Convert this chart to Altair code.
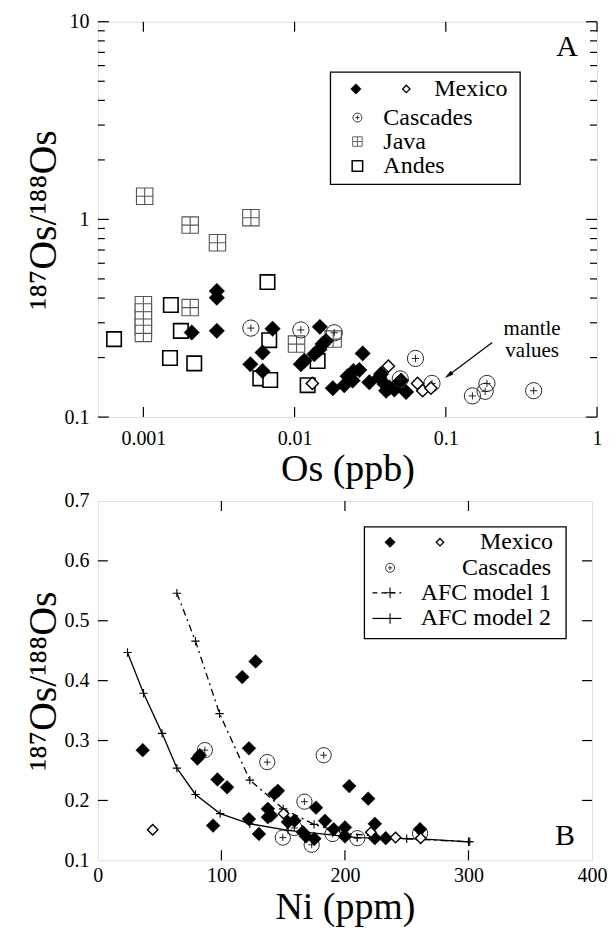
import altair as alt
import pandas as pd

FONT = "Liberation Serif, DejaVu Serif, serif"

# ---------------- Panel A data (Os ppb vs 187Os/188Os, log-log) ----------------
mexA_fill_x = [0.00306, 0.00306, 0.00306, 0.00209, 0.00715, 0.00614, 0.0051, 0.00614, 0.0147, 0.0153,
               0.0161, 0.0146, 0.0135, 0.0116, 0.011, 0.0282, 0.0179, 0.0213, 0.0224, 0.0245, 0.0268,
               0.0242, 0.0312, 0.0364, 0.0393, 0.0424, 0.0457, 0.048, 0.0506, 0.0546, 0.0373, 0.0403]
mexA_fill_y = [0.434, 0.402, 0.273, 0.268, 0.28, 0.212, 0.185, 0.171, 0.286, 0.234,
               0.243, 0.22, 0.208, 0.193, 0.185, 0.21, 0.14, 0.145, 0.161, 0.171, 0.173,
               0.153, 0.15, 0.159, 0.147, 0.141, 0.138, 0.147, 0.153, 0.134, 0.165, 0.136]
mexA_open_x = [0.0131, 0.0417, 0.065, 0.0703, 0.0797]
mexA_open_y = [0.148, 0.181, 0.148, 0.136, 0.14]
casA_x = [0.00514, 0.011, 0.0183, 0.063, 0.05, 0.081, 0.187, 0.182, 0.15, 0.381]
casA_y = [0.282, 0.276, 0.267, 0.198, 0.156, 0.148, 0.148, 0.135, 0.128, 0.136]
javA_x = [0.00102, 0.00204, 0.00309, 0.00514, 0.001, 0.001, 0.001, 0.001, 0.001, 0.00204, 0.0103, 0.018]
javA_y = [1.31, 0.936, 0.762, 1.02, 0.37, 0.34, 0.31, 0.285, 0.265, 0.358, 0.234, 0.248]
andA_x = [0.00064, 0.00152, 0.00177, 0.0015, 0.00217, 0.00662, 0.0068, 0.00593, 0.0069, 0.0142, 0.0122]
andA_y = [0.248, 0.369, 0.273, 0.199, 0.187, 0.482, 0.245, 0.157, 0.154, 0.192, 0.145]

# ---------------- Panel B data (Ni ppm vs 187Os/188Os) ----------------
mexB_fill_x = [36.3, 80.6, 82.5, 116.9, 127.7, 122.3, 96.8, 104.6, 93.3, 122.3, 130.4, 143, 145.7,
               137.6, 140.3, 137.6, 153.8, 159.1, 165.9, 168.5, 175.3, 176.6, 183.9, 190.9, 200, 200,
               203.5, 218.8, 224.2, 224.2, 233, 260.8]
mexB_fill_y = [0.284, 0.27, 0.2755, 0.406, 0.432, 0.287, 0.235, 0.222, 0.158, 0.169, 0.144, 0.211, 0.216,
               0.186, 0.175, 0.172, 0.164, 0.166, 0.147, 0.14, 0.136, 0.188, 0.166, 0.152, 0.155, 0.14,
               0.224, 0.203, 0.161, 0.137, 0.137, 0.152]
mexB_open_x = [44.4, 150.3, 221, 241, 261.3]
mexB_open_y = [0.151, 0.178, 0.147, 0.138, 0.137]
casB_x = [86.6, 137.1, 182.8, 167.2, 159.1, 149.7, 173.1, 190, 210, 260.8]
casB_y = [0.284, 0.264, 0.2755, 0.198, 0.154, 0.138, 0.126, 0.144, 0.137, 0.145]
afc1_x = [64, 79, 98.5, 123, 150, 175, 200, 250, 300]
afc1_y = [0.546, 0.466, 0.345, 0.234, 0.186, 0.16, 0.145, 0.136, 0.131]
afc2_x = [24, 37, 52, 64, 79, 99, 123, 154, 210, 261, 301]
afc2_y = [0.447, 0.379, 0.312, 0.254, 0.21, 0.178, 0.161, 0.15, 0.138, 0.136, 0.131]

# axis tick values
xA_ticks = [0.001, 0.01, 0.1, 1]
yA_major = [0.1, 1, 10]
yA_minor = [0.2, 0.3, 0.4, 0.5, 0.6, 0.7, 0.8, 0.9, 2, 3, 4, 5, 6, 7, 8, 9]
xB_ticks = [0, 100, 200, 300, 400]
yB_ticks = [0.1, 0.2, 0.3, 0.4, 0.5, 0.6, 0.7]

WA, HA = 500, 396
WB, HB = 495, 360

sxA = alt.Scale(type="log", domain=[0.0005, 1])
syA = alt.Scale(type="log", domain=[0.1, 10])
sxB = alt.Scale(domain=[0, 400], nice=False, zero=False)
syB = alt.Scale(domain=[0.1, 0.7], nice=False, zero=False)

CIRCLE_PLUS = "M -1 0 A 1 1 0 1 1 1 0 A 1 1 0 1 1 -1 0 Z M -0.45 0 L 0.45 0 M 0 -0.45 L 0 0.45"
SQUARE_PLUS = "M -1 -1 L 1 -1 L 1 1 L -1 1 Z M 0 -1 L 0 1 M -1 0 L 1 0"
PLUS = "M -1 0 L 1 0 M 0 -1 L 0 1"
ARROW = "M 0 0 L 0.5 2 L -0.5 2 Z"

YTITLE = "\u00b9\u2078\u2077Os/\u00b9\u2078\u2078Os"


def axis(vals, fmt, title, lpad, tpad, tsize):
    return alt.Axis(values=vals, format=fmt, title=title, tickSize=0, ticks=False, domain=False,
                    grid=False, labelFont=FONT, labelFontSize=20, labelColor="black",
                    labelPadding=lpad, labelFlush=False, labelOverlap=False, labelBound=False,
                    titleFont=FONT, titleFontSize=tsize, titleFontWeight="normal", titleColor="black",
                    titlePadding=tpad)


axXA = axis(xA_ticks, "~g", "Os (ppb)", 11, 3, 38)
axYA = axis(yA_major, "~g", YTITLE, 9, 0, 40)
axXB = axis(xB_ticks, "d", "Ni (ppm)", 5, 3, 38)
axYB = axis(yB_ticks, ".1f", YTITLE, 9, 0, 40)


def dummy():
    return pd.DataFrame({"k": [0]})


def X(sx, ax, f="x"):
    return alt.X(f + ":Q", scale=sx, axis=ax, title=ax.title)


def Y(sy, ay, f="y"):
    return alt.Y(f + ":Q", scale=sy, axis=ay, title=ay.title)


def pts(xs, ys, P, **mk):
    sx, sy, ax, ay = P
    df = pd.DataFrame({"x": xs, "y": ys})
    return alt.Chart(df).mark_point(opacity=1, **mk).encode(x=X(sx, ax), y=Y(sy, ay))


def diamond_fill(xs, ys, P, size):
    return pts(xs, ys, P, shape="diamond", size=size, filled=True, fill="black",
               stroke="black", strokeWidth=0.5)


def diamond_open(xs, ys, P, size):
    return pts(xs, ys, P, shape="diamond", size=size, fill="white", fillOpacity=1,
               stroke="black", strokeWidth=1.4)


def circ(xs, ys, P, size):
    return pts(xs, ys, P, shape=CIRCLE_PLUS, size=size, fillOpacity=0,
               stroke="#222", strokeWidth=1.0)


def ticks_y(vals, P, length, W):
    sx, sy, ax, ay = P
    df = pd.DataFrame({"y": vals})
    base = alt.Chart(df).mark_rule(color="black", strokeWidth=1.2)
    left = base.encode(y=Y(sy, ay), x=alt.value(0), x2=alt.value(length))
    right = base.encode(y=Y(sy, ay), x=alt.value(W - length), x2=alt.value(W))
    return [left, right]


def ticks_x(vals, P, length, H):
    sx, sy, ax, ay = P
    df = pd.DataFrame({"x": vals})
    base = alt.Chart(df).mark_rule(color="black", strokeWidth=1.2)
    bot = base.encode(x=X(sx, ax), y=alt.value(H - length), y2=alt.value(H))
    top = base.encode(x=X(sx, ax), y=alt.value(0), y2=alt.value(length))
    return [bot, top]


def txt(s, x, y, size=24, align="left", baseline="middle"):
    return alt.Chart(dummy()).mark_text(text=s, font=FONT, fontSize=size, align=align,
                                        baseline=baseline, color="black").encode(
        x=alt.value(x), y=alt.value(y))


def sym(x, y, **mk):
    return alt.Chart(dummy()).mark_point(opacity=1, **mk).encode(x=alt.value(x), y=alt.value(y))


def box(x1, y1, x2, y2):
    return alt.Chart(dummy()).mark_rect(fill="white", stroke="black", strokeWidth=1.3).encode(
        x=alt.value(x1), x2=alt.value(x2), y=alt.value(y1), y2=alt.value(y2))


def seg(x1, y1, x2, y2, dash=None, sw=1.2):
    kw = {"strokeDash": dash} if dash else {}
    return alt.Chart(dummy()).mark_rule(color="black", strokeWidth=sw, **kw).encode(
        x=alt.value(x1), x2=alt.value(x2), y=alt.value(y1), y2=alt.value(y2))


# ---------------- Panel A ----------------
PA = (sxA, syA, axXA, axYA)
layersA = []
layersA += ticks_x(xA_ticks, PA, 10, HA)
layersA += ticks_y(yA_major, PA, 11, WA)
layersA += ticks_y(yA_minor, PA, 7, WA)
layersA += [
    pts(javA_x, javA_y, PA, shape=SQUARE_PLUS, size=270, fill="white", fillOpacity=1,
        stroke="#555", strokeWidth=1.1),
    pts(andA_x, andA_y, PA, shape="square", size=210, fill="white", fillOpacity=1,
        stroke="black", strokeWidth=1.6),
    diamond_fill(mexA_fill_x, mexA_fill_y, PA, 240),
    circ(casA_x, casA_y, PA, 260),
    diamond_open(mexA_open_x, mexA_open_y, PA, 150),
    # legend
    box(233, 50.5, 423, 163),
    sym(258.5, 67.3, shape="diamond", size=110, filled=True, fill="black", stroke="black", strokeWidth=0.5),
    sym(309, 67.3, shape="diamond", size=55, fill="white", stroke="black", strokeWidth=1.3),
    txt("Mexico", 337, 67.3),
    sym(260, 96, shape=CIRCLE_PLUS, size=80, fillOpacity=0, stroke="#222", strokeWidth=0.9),
    txt("Cascades", 286, 96),
    sym(260, 120, shape=SQUARE_PLUS, size=90, fill="white", stroke="#555", strokeWidth=0.9),
    txt("Java", 286, 120),
    sym(260, 144.5, shape="square", size=110, fill="white", stroke="black", strokeWidth=1.5),
    txt("Andes", 286, 144.5),
    # panel letter and annotation
    txt("A", 470, 25, size=30, align="center"),
    txt("mantle", 435, 308, size=21, align="center"),
    txt("values", 435, 330, size=21, align="center"),
    seg(395, 321.3, 350, 355),
    sym(348.3, 356.3, shape=ARROW, size=64, filled=True, fill="black", stroke="black",
        strokeWidth=0.5, angle=233),
]
panelA = alt.layer(*layersA).properties(width=WA, height=HA)

# ---------------- Panel B ----------------
PB = (sxB, syB, axXB, axYB)
dfa1 = pd.DataFrame({"x": afc1_x, "y": afc1_y})
dfa2 = pd.DataFrame({"x": afc2_x, "y": afc2_y})
line1 = alt.Chart(dfa1).mark_line(color="black", strokeWidth=1.3, strokeDash=[7, 4, 2, 4]).encode(
    x=X(sxB, axXB), y=Y(syB, axYB))
line2 = alt.Chart(dfa2).mark_line(color="black", strokeWidth=1.3).encode(
    x=X(sxB, axXB), y=Y(syB, axYB))
plus1 = pts(afc1_x, afc1_y, PB, shape=PLUS, size=70, stroke="black", strokeWidth=1.1)
plus2 = pts(afc2_x, afc2_y, PB, shape=PLUS, size=70, stroke="black", strokeWidth=1.1)

layersB = []
layersB += ticks_x([100, 200, 300], PB, 10, HB)
layersB += ticks_y([0.2, 0.3, 0.4, 0.5, 0.6], PB, 10, WB)
layersB += [
    line1, line2, plus1, plus2,
    circ(casB_x, casB_y, PB, 230),
    diamond_fill(mexB_fill_x, mexB_fill_y, PB, 190),
    diamond_open(mexB_open_x, mexB_open_y, PB, 110),
    # legend
    box(267, 26, 469, 138),
    sym(292.7, 41.3, shape="diamond", size=110, filled=True, fill="black", stroke="black", strokeWidth=0.5),
    sym(342.7, 41.3, shape="diamond", size=55, fill="white", stroke="black", strokeWidth=1.3),
    txt("Mexico", 456, 41.3, align="right"),
    sym(292.7, 67, shape=CIRCLE_PLUS, size=80, fillOpacity=0, stroke="#222", strokeWidth=0.9),
    txt("Cascades", 454, 67, align="right"),
    seg(275, 92, 304, 92, dash=[5, 4]),
    sym(292.7, 92, shape=PLUS, size=110, stroke="black", strokeWidth=1.1),
    txt("AFC model 1", 454, 92, align="right"),
    seg(275, 117.7, 304, 117.7),
    sym(292.7, 117.7, shape=PLUS, size=110, stroke="black", strokeWidth=1.1),
    txt("AFC model 2", 454, 117.7, align="right"),
    txt("B", 468, 335.5, size=30, align="center"),
]
panelB = alt.layer(*layersB).properties(width=WB, height=HB)

chart = alt.vconcat(panelA, panelB, spacing=0).properties(
    padding={"left": 15, "top": 2, "right": 0, "bottom": 0}
).configure_view(stroke="black", strokeWidth=1.5).configure(background="white")

chart.save("out.html", embed_options={"renderer": "svg", "actions": False})
